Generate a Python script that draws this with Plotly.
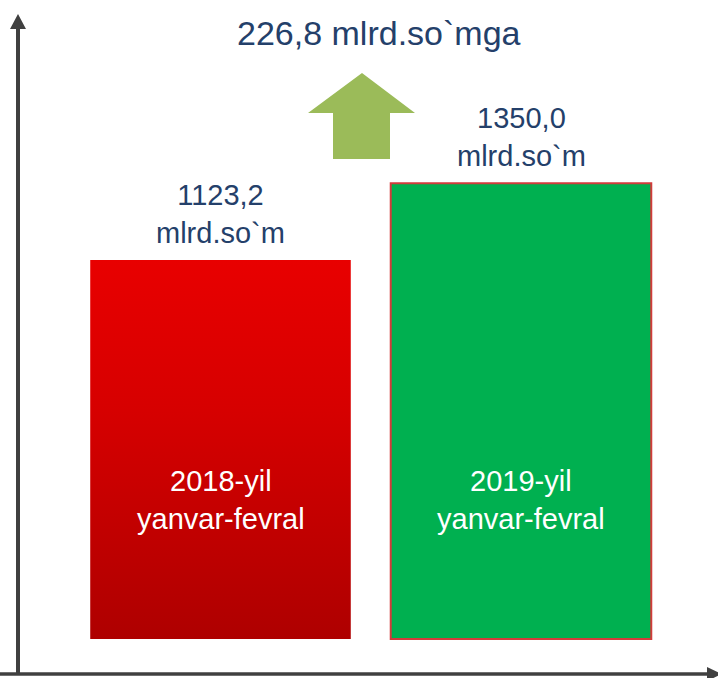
import plotly.graph_objects as go

# ---- data ----
periods = ["2018-yil<br>yanvar-fevral", "2019-yil<br>yanvar-fevral"]
values = [1123.2, 1350.0]
value_labels = ["1123,2<br>mlrd.so`m", "1350,0<br>mlrd.so`m"]
growth_label = "226,8 mlrd.so`mga"

W, H = 718, 678
FONT = "Liberation Sans, Arial, sans-serif"
TXT = "#24406A"

xs = list(range(len(values)))
bar_w = 0.867

def px(x, y):
    return x / W, 1 - y / H

fig = go.Figure()

# gradient body for the first (red) bar, built from the data value
x0, x1 = xs[0] - bar_w / 2, xs[0] + bar_w / 2
fig.add_trace(go.Scatter(
    x=[x0, x1, x1, x0, x0], y=[0, 0, values[0], values[0], 0],
    mode="lines", line=dict(width=0), fill="toself",
    fillgradient=dict(type="vertical", colorscale=[[0, "#AE0000"], [0.6, "#D60000"], [1, "#E80000"]]),
    hoverinfo="skip", showlegend=False,
))

fig.add_trace(go.Bar(
    x=xs, y=values, width=bar_w,
    marker=dict(color=["rgba(0,0,0,0)", "#00B050"],
                line=dict(color=["rgba(0,0,0,0)", "#D23B3B"], width=2)),
    showlegend=False,
))

# value labels above bars
for xi, v, lab in zip(xs, values, value_labels):
    fig.add_annotation(x=xi, y=v, text=lab, showarrow=False, yanchor="middle",
                       yshift=46, font=dict(family=FONT, size=29, color=TXT))

# category labels inside bars
for xi, lab in zip(xs, periods):
    fig.add_annotation(x=xi, y=px(0, 500)[1], yref="paper", text=lab, showarrow=False,
                       yanchor="middle", font=dict(family=FONT, size=29, color="white"))

# growth label
gx, gy = px(379, 33)
fig.add_annotation(x=gx, y=gy, xref="paper", yref="paper", text=growth_label,
                   showarrow=False, yanchor="middle",
                   font=dict(family=FONT, size=34, color=TXT))

shapes = []
def path(points):
    s = ""
    for i, (a, b) in enumerate(points):
        X, Y = px(a, b)
        s += ("M" if i == 0 else "L") + f"{X:.5f},{Y:.5f} "
    return s + "Z"

# up arrow (olive green)
shapes.append(dict(type="path", xref="paper", yref="paper",
                   path=path([(362, 73), (415, 113), (390, 113), (390, 159),
                              (333, 159), (333, 113), (308, 113)]),
                   fillcolor="#9BBB59", line=dict(width=0)))

# axes
ax_col = "#404040"
ya, yb = px(18, 674), px(18, 26)
shapes.append(dict(type="line", xref="paper", yref="paper", x0=ya[0], y0=ya[1], x1=yb[0], y1=yb[1],
                   line=dict(color=ax_col, width=4)))
shapes.append(dict(type="path", xref="paper", yref="paper",
                   path=path([(18, 14), (26, 29), (10, 29)]),
                   fillcolor=ax_col, line=dict(width=0)))
xa, xb = px(0, 674), px(708, 674)
shapes.append(dict(type="line", xref="paper", yref="paper", x0=xa[0], y0=xa[1], x1=xb[0], y1=xb[1],
                   line=dict(color=ax_col, width=3.5)))
shapes.append(dict(type="path", xref="paper", yref="paper",
                   path=path([(722, 674), (707, 667), (707, 681)]),
                   fillcolor=ax_col, line=dict(width=0)))

s = 0.3375
fig.update_layout(
    width=W, height=H, margin=dict(l=0, r=0, t=0, b=0),
    paper_bgcolor="white", plot_bgcolor="white",
    xaxis=dict(visible=False, range=[-220.5 / 300.5, (W - 220.5) / 300.5], fixedrange=True),
    yaxis=dict(visible=False, range=[-(H - 639) / s, 639 / s], fixedrange=True),
    shapes=shapes, showlegend=False,
)

fig.write_html("out.html", config={"displayModeBar": False},
               post_script="document.body.style.margin='0px';document.body.style.overflow='hidden';")
